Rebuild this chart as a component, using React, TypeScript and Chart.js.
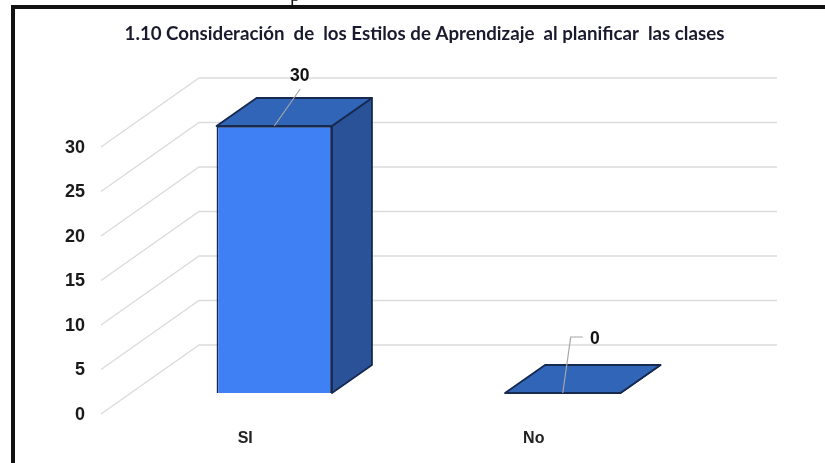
import React, { useEffect, useRef } from "react";
import { Chart, registerables } from "chart.js";

Chart.register(...registerables);

const categories = ["SI", "No"];
const seriesValues = [30, 0];
const tickValues = [0, 5, 10, 15, 20, 25, 30];
const titleText = "1.10 Consideración  de  los Estilos de Aprendizaje  al planificar  las clases";

const WALL_DX = 99;
const WALL_DY = 69;
const BAR_DX = 30;
const BAR_DY = 21;
const DEPTH_DX = 40;
const DEPTH_DY = 28;

const scene3d = {
  id: "scene3d",
  beforeDatasetsDraw(chart: any) {
    const { ctx, chartArea, scales } = chart;
    ctx.save();
    ctx.strokeStyle = "#dcdcdc";
    ctx.lineWidth = 1.4;
    tickValues.forEach((v) => {
      const y = scales.y.getPixelForValue(v);
      ctx.beginPath();
      ctx.moveTo(chartArea.left + 1, y);
      ctx.lineTo(chartArea.left + WALL_DX, y - WALL_DY);
      ctx.lineTo(chartArea.right + WALL_DX + 1, y - WALL_DY);
      ctx.stroke();
    });
    ctx.restore();
  },
  beforeDatasetDraw(chart: any) {
    const { ctx } = chart;
    ctx.save();
    ctx.translate(BAR_DX, -BAR_DY);
    const bars = chart.getDatasetMeta(0).data;
    bars.forEach((bar: any) => {
      const p = bar.getProps(["x", "y", "base", "width"], true);
      const l = p.x - p.width / 2;
      const r = p.x + p.width / 2;
      ctx.lineWidth = 1.8;
      ctx.strokeStyle = "#16294f";
      ctx.lineJoin = "round";
      ctx.fillStyle = "#2a5298";
      ctx.beginPath();
      ctx.moveTo(r, p.y);
      ctx.lineTo(r + DEPTH_DX, p.y - DEPTH_DY);
      ctx.lineTo(r + DEPTH_DX, p.base - DEPTH_DY);
      ctx.lineTo(r, p.base);
      ctx.closePath();
      ctx.fill();
      ctx.stroke();
      ctx.fillStyle = "#3065b8";
      ctx.beginPath();
      ctx.moveTo(l, p.y);
      ctx.lineTo(l + DEPTH_DX, p.y - DEPTH_DY);
      ctx.lineTo(r + DEPTH_DX, p.y - DEPTH_DY);
      ctx.lineTo(r, p.y);
      ctx.closePath();
      ctx.fill();
      ctx.stroke();
    });
  },
  afterDatasetDraw(chart: any) {
    const { ctx } = chart;
    ctx.restore();
    ctx.save();
    const bars = chart.getDatasetMeta(0).data;
    ctx.font = "bold 17.5px 'Liberation Sans'";
    ctx.textAlign = "center";
    ctx.textBaseline = "middle";
    bars.forEach((bar: any, i: number) => {
      const p = bar.getProps(["x", "y"], true);
      const fx = p.x + BAR_DX;
      const fy = p.y - BAR_DY;
      ctx.strokeStyle = "#a6a6a6";
      ctx.lineWidth = 1.2;
      ctx.beginPath();
      ctx.moveTo(fx, fy);
      if (seriesValues[i] > 0) {
        ctx.lineTo(fx + 26, fy - 37);
      } else {
        ctx.lineTo(fx + 8, fy - 56);
        ctx.lineTo(fx + 20, fy - 56);
      }
      ctx.stroke();
      ctx.fillStyle = "#111111";
      const lx = seriesValues[i] > 0 ? fx + 25.5 : fx + 32;
      const ly = seriesValues[i] > 0 ? fy - 50 : fy - 54;
      ctx.fillText(String(seriesValues[i]), lx, ly);
    });
    ctx.restore();
  },
};

export default function App() {
  const ref = useRef<HTMLCanvasElement | null>(null);
  useEffect(() => {
    const chart = new Chart(ref.current as HTMLCanvasElement, {
      type: "bar",
      data: {
        labels: categories,
        datasets: [
          {
            data: seriesValues,
            backgroundColor: "#4080f5",
            borderColor: "#16294f",
            borderWidth: 1.8,
            barPercentage: 0.4,
            categoryPercentage: 1,
          },
        ],
      },
      options: {
        responsive: false,
        animation: false,
        layout: { padding: { left: 24, right: 0, top: 0, bottom: 0 } },
        plugins: {
          legend: { display: false },
          tooltip: { enabled: false },
          title: {
            display: true,
            text: titleText,
            color: "#1a1a2e",
            font: { family: "Lato", weight: "bold", size: 18.7, lineHeight: 1 },
            padding: { top: 25, bottom: 103.3 },
          },
        },
        scales: {
          x: {
            grid: { display: false, drawTicks: false },
            border: { display: false },
            ticks: {
              color: "#222222",
              padding: 15,
              labelOffset: 1,
              font: { family: "'Liberation Sans'", weight: "bold", size: 16 },
            },
            afterFit(s: any) { s.height = 49; },
          },
          y: {
            min: 0,
            max: 30,
            grid: { display: false, drawTicks: false },
            border: { display: false },
            ticks: {
              stepSize: 5,
              color: "#1a1a1a",
              padding: 15,
              labelOffset: 1,
              font: { family: "'Liberation Sans'", weight: "bold", size: 18 },
            },
            afterFit(s: any) { s.width = 76; },
          },
          yRight: {
            position: "right",
            min: 0,
            max: 30,
            grid: { display: false, drawTicks: false },
            border: { display: false },
            ticks: { display: false },
            afterFit(s: any) { s.width = 148; },
          },
        },
      },
      plugins: [scene3d],
    } as any);
    return () => chart.destroy();
  }, []);

  return (
    <div style={{ position: "fixed", inset: 0, overflow: "hidden", background: "#fff" }}>
      <canvas
        ref={ref}
        width={825}
        height={463}
        style={{ position: "absolute", left: 0, top: 0, filter: "blur(0.35px)" }}
      />
      <div
        style={{
          position: "absolute",
          left: 11,
          top: 5,
          width: 900,
          height: 600,
          border: "4px solid #111",
          pointerEvents: "none",
        }}
      />
      <span
        style={{
          position: "absolute",
          left: 290,
          top: -16,
          font: "20px/20px 'Liberation Serif'",
          color: "#111",
        }}
      >
        p
      </span>
    </div>
  );
}
